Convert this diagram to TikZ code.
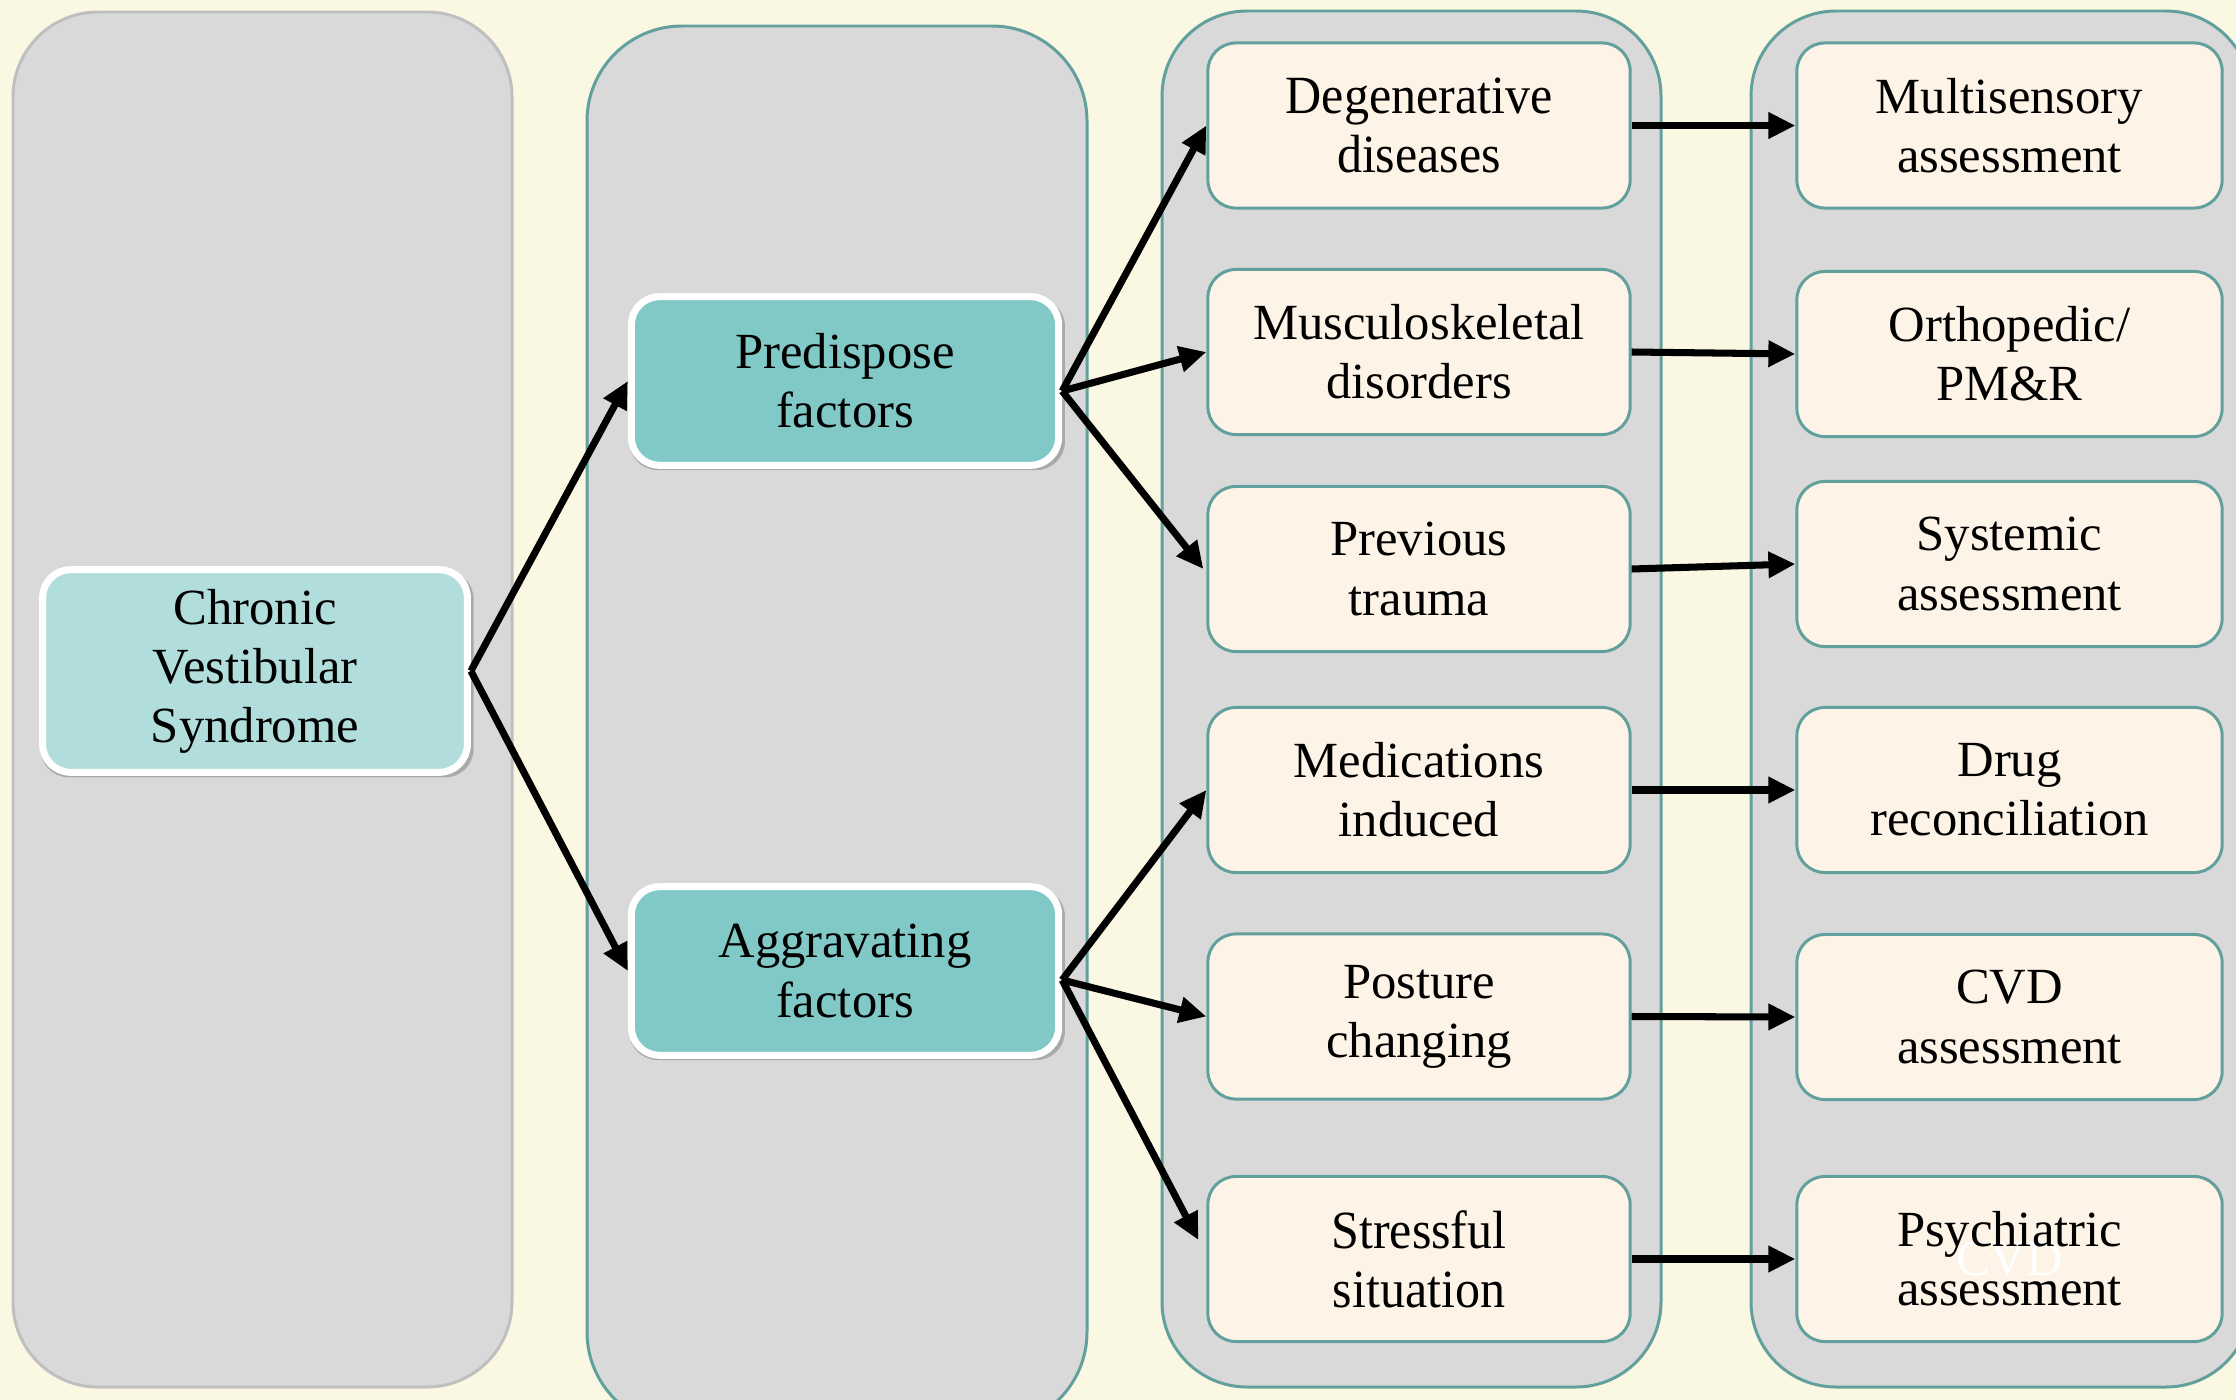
\documentclass[tikz,border=0pt]{standalone}
\usepackage{fontspec}
\setmainfont{Liberation Serif}
\newfontfamily\condfont[FakeStretch=0.93]{Liberation Serif}
\usetikzlibrary{arrows.meta,shadows}
\definecolor{bgc}{HTML}{FAF7E2}
\definecolor{colfill}{HTML}{D9D9D9}
\definecolor{grayb}{HTML}{BFBFBF}
\definecolor{tealb}{HTML}{62A09D}
\definecolor{boxfill}{HTML}{FDF4E7}
\definecolor{tealdark}{HTML}{80C9C7}
\definecolor{teallight}{HTML}{B1DEDC}
\tikzset{
  colbox/.style={fill=colfill, draw=tealb, line width=0.85pt, rounded corners=0.85cm},
  obox/.style={draw=tealb, line width=0.85pt, fill=boxfill, rounded corners=0.28cm,
    minimum height=1.65cm, align=center, inner sep=0pt,
    font=\fontsize{14.4}{16.8}\selectfont},
  obox3/.style={obox, minimum width=4.22cm},
  obox4/.style={obox, minimum width=4.25cm},
  tnode/.style={draw=white, line width=2pt, rounded corners=0.28cm,
    minimum width=4.27cm, minimum height=1.685cm, align=center, inner sep=0pt,
    font=\fontsize{14.4}{16.8}\selectfont,
    general shadow={fill=black, opacity=0.22, shadow xshift=0.02cm, shadow yshift=-0.03cm, shadow scale=1.02}},
  arr/.style={draw=black, line width=2pt, -{Triangle[length=0.27cm,width=0.25cm]}},
  cond/.style={font=\condfont\fontsize{15.3}{16.8}\selectfont}
}
\begin{document}
\begin{tikzpicture}[x=0.01cm,y=-0.01cm]
\useasboundingbox (0,0) rectangle (2236,1400);
\clip (0,0) rectangle (2236,1400);
\fill[bgc] (0,0) rectangle (2236,1400);

% columns
\draw[colbox, draw=grayb] (13,12) rectangle (512,1387);
\draw[colbox, rounded corners=0.95cm] (587,26) rectangle (1087,1427);
\draw[colbox] (1162,11) rectangle (1661,1387);
\draw[colbox] (1751,11) rectangle (2251,1387);

% teal nodes
\node[tnode, fill=teallight, minimum width=4.245cm, minimum height=2.025cm] (cvs) at (255,671) {Chronic\\Vestibular\\Syndrome};
\node[tnode, fill=tealdark] (pre) at (845,381) {Predispose\\factors};
\node[tnode, fill=tealdark] (agg) at (845,971) {Aggravating\\factors};

% column 3 boxes
\node[obox3, cond] (deg) at (1419,125.5) {Degenerative\\diseases};
\node[obox3] (mus) at (1419,352) {Musculoskeletal\\disorders};
\node[obox3] (prev) at (1419,569) {Previous\\trauma};
\node[obox3] (med) at (1419,790) {Medications\\induced};
\node[obox3] (pos) at (1419,1016.5) {Posture\\changing};
\node[obox3, cond] (st) at (1419,1259) {Stressful\\situation};

% column 4 boxes
\node[obox4] (mul) at (2009.5,125.5) {Multisensory\\assessment};
\node[obox4] (ort) at (2009.5,354) {Orthopedic/\\PM\&R};
\node[obox4] (sys) at (2009.5,564) {Systemic\\assessment};
\node[obox4] (drug) at (2009.5,790) {Drug\\reconciliation};
\node[obox4] (cvd) at (2009.5,1017) {CVD\\assessment};
\node[obox4, path picture={\node[white, font=\fontsize{14.4}{16.8}\selectfont] at (path picture bounding box.center) {CVD};}] (psy) at (2009.5,1259) {Psychiatric\\assessment};

% arrows
\draw[arr] (cvs.east) -- (pre.west);
\draw[arr] (cvs.east) -- (agg.west);
\draw[arr] ([yshift=-0.1cm]pre.east) -- (deg.west);
\draw[arr] ([yshift=-0.1cm]pre.east) -- (mus.west);
\draw[arr] ([yshift=-0.1cm]pre.east) -- ([xshift=-0.03cm]prev.west);
\draw[arr] ([yshift=-0.09cm]agg.east) -- (med.west);
\draw[arr] ([yshift=-0.09cm]agg.east) -- (pos.west);
\draw[arr] ([yshift=-0.09cm]agg.east) -- ([xshift=-0.08cm,yshift=0.19cm]st.west);
\draw[arr] (deg.east) -- (mul.west);
\draw[arr] (mus.east) -- (ort.west);
\draw[arr] (prev.east) -- (sys.west);
\draw[arr] (med.east) -- (drug.west);
\draw[arr] (pos.east) -- (cvd.west);
\draw[arr] (st.east) -- (psy.west);
\end{tikzpicture}
\end{document}
